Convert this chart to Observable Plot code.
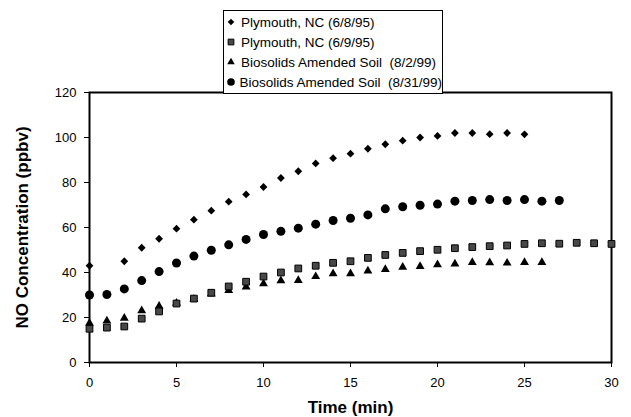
<!DOCTYPE html>
<html>
<head>
<meta charset="utf-8">
<script src="https://cdn.jsdelivr.net/npm/d3@7"></script>
<script src="https://cdn.jsdelivr.net/npm/@observablehq/plot@0.6"></script>
<style>
  body { margin: 0; background: #fff; }
  #wrap { position: relative; width: 631px; height: 417px; font-family: "Liberation Sans", Arial, sans-serif; }
  #legend { position: absolute; left: 223px; top: 10px; width: 220px; height: 84px; box-sizing: border-box;
            border: 1px solid #000; background: #fff; padding-top: 1px; }
  .row { height: 20px; display: flex; align-items: center; font-size: 13.5px; white-space: pre; color: #000; }
  .row svg { margin-left: 1px; margin-right: 4px; }
</style>
</head>
<body>
<div id="wrap"><div id="chart"></div><div id="legend"></div></div>
<script>
// Series names
const seriesNames = [
  "Plymouth, NC (6/8/95)",
  "Plymouth, NC (6/9/95)",
  "Biosolids Amended Soil  (8/2/99)",
  "Biosolids Amended Soil  (8/31/99)"
];

// Plymouth, NC (6/8/95) — diamonds
const plym1Time = [0, 2, 3, 4, 5, 6, 7, 8, 9, 10, 11, 12, 13, 14, 15, 16, 17, 18, 19, 20, 21, 22, 23, 24, 25];
const plym1NO   = [43, 45, 51, 55, 59.5, 63.5, 67.5, 71.5, 74.7, 78, 82, 85, 88.5, 90.8, 92.8, 95, 97, 98.6, 100, 100.7, 102, 102, 101.5, 102, 101.4];

// Plymouth, NC (6/9/95) — squares
const plym2Time = [0, 1, 2, 3, 4, 5, 6, 7, 8, 9, 10, 11, 12, 13, 14, 15, 16, 17, 18, 19, 20, 21, 22, 23, 24, 25, 26, 27, 28, 29, 30];
const plym2NO   = [15, 15.5, 16, 19.5, 22.7, 26.2, 28.4, 31, 33.8, 35.9, 38.2, 40, 41.8, 43, 44.3, 45, 46.5, 47.8, 48.7, 49.5, 50.1, 50.8, 51.3, 51.7, 52, 52.7, 53, 52.8, 53.2, 53, 52.7];

// Biosolids Amended Soil (8/2/99) — triangles
const bio1Time = [0, 1, 2, 3, 4, 5, 6, 7, 8, 9, 10, 11, 12, 13, 14, 15, 16, 17, 18, 19, 20, 21, 22, 23, 24, 25, 26];
const bio1NO   = [17.5, 18.5, 19.7, 23, 25, 26.4, 28, 30.5, 32, 33.6, 35, 36.4, 36.5, 38.2, 39.5, 39.5, 40.7, 41.4, 42.4, 42.7, 43.5, 43.8, 44.5, 44.4, 44.2, 44.5, 44.5];

// Biosolids Amended Soil (8/31/99) — circles
const bio2Time = [0, 1, 2, 3, 4, 5, 6, 7, 8, 9, 10, 11, 12, 13, 14, 15, 16, 17, 18, 19, 20, 21, 22, 23, 24, 25, 26, 27];
const bio2NO   = [30, 30.2, 32.7, 36.4, 40.4, 44.2, 47.3, 49.9, 52.3, 54.7, 56.9, 58.3, 59.7, 61.5, 63.1, 64.1, 65.6, 68.3, 69.2, 69.9, 70.4, 71.7, 72, 72.4, 72, 72.4, 71.7, 72];

const xTicks = [0, 5, 10, 15, 20, 25, 30];
const yTicks = [0, 20, 40, 60, 80, 100, 120];

const toRows = (times, vals, name) => times.map((t, i) => ({time: t, no: vals[i], series: name}));
const d1 = toRows(plym1Time, plym1NO, seriesNames[0]);
const d2 = toRows(plym2Time, plym2NO, seriesNames[1]);
const d3s = toRows(bio1Time, bio1NO, seriesNames[2]);
const d4 = toRows(bio2Time, bio2NO, seriesNames[3]);

const styles = [
  {symbol: "diamond2", r: 3.5, fill: "#000", stroke: "none", strokeWidth: 0},
  {symbol: "square", r: 3.8, fill: "#484848", stroke: "#000", strokeWidth: 1},
  {symbol: "triangle", r: 3.3, fill: "#000", stroke: "none", strokeWidth: 0},
  {symbol: "circle", r: 4.5, fill: "#000", stroke: "none", strokeWidth: 0}
];

const chart = Plot.plot({
  width: 631,
  height: 417,
  marginLeft: 89,
  marginRight: 20,
  marginTop: 92,
  marginBottom: 55,
  style: {fontFamily: "'Liberation Sans', Arial, sans-serif", fontSize: "13px", color: "#000", background: "#fff"},
  x: {domain: [0, 30], label: null},
  y: {domain: [0, 120], label: null},
  marks: [
    Plot.axisX({ticks: xTicks, tickSize: 5, tickPadding: 10, label: null, fontSize: 13}),
    Plot.axisY({ticks: yTicks, tickSize: 5, tickPadding: 8, label: null, fontSize: 13}),
    Plot.frame({stroke: "#000", strokeWidth: 2}),
    Plot.dot(d3s, {x: "time", y: "no", ...styles[2]}),
    Plot.dot(d2, {x: "time", y: "no", ...styles[1]}),
    Plot.dot(d4, {x: "time", y: "no", ...styles[3]}),
    Plot.dot(d1, {x: "time", y: "no", ...styles[0]}),
    Plot.text(["NO Concentration (ppbv)"], {frameAnchor: "left", dx: -67, rotate: -90, fontWeight: "bold", fontSize: 17, lineAnchor: "middle", textAnchor: "middle"}),
    Plot.text(["Time (min)"], {frameAnchor: "bottom", dy: 45, fontWeight: "bold", fontSize: 17, lineAnchor: "middle", textAnchor: "middle"})
  ]
});
document.getElementById("chart").append(chart);

// Legend
const legend = d3.select("#legend");
const symMap = {diamond2: d3.symbolDiamond2, square: d3.symbolSquare, triangle: d3.symbolTriangle, circle: d3.symbolCircle};
seriesNames.forEach((name, i) => {
  const s = styles[i];
  const row = legend.append("div").attr("class", "row");
  const svg = row.append("svg").attr("width", 12).attr("height", 12);
  const lr = s.r * 0.85;
  svg.append("path")
    .attr("transform", "translate(6,6)")
    .attr("d", d3.symbol(symMap[s.symbol], Math.PI * lr * lr)())
    .attr("fill", s.fill)
    .attr("stroke", s.stroke)
    .attr("stroke-width", s.strokeWidth);
  row.append("span").text(name);
});
</script>
</body>
</html>
